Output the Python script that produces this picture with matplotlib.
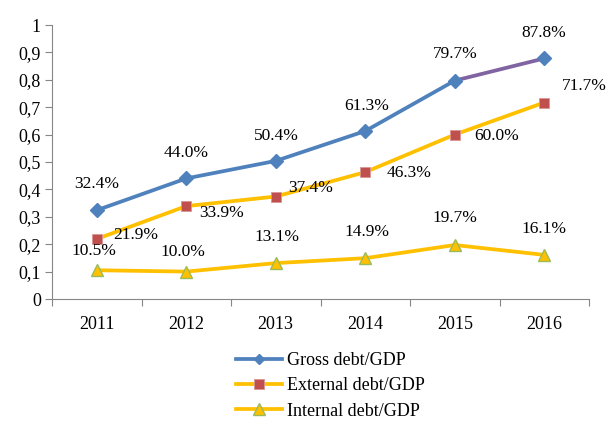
import matplotlib
matplotlib.use("Agg")
import matplotlib.pyplot as plt
import numpy as np
from matplotlib.lines import Line2D

years = ["2011", "2012", "2013", "2014", "2015", "2016"]
gross = [0.324, 0.440, 0.504, 0.613, 0.797, 0.878]
external = [0.219, 0.339, 0.374, 0.463, 0.600, 0.717]
internal = [0.105, 0.100, 0.131, 0.149, 0.197, 0.161]
gross_lbl = ["32.4%", "44.0%", "50.4%", "61.3%", "79.7%", "87.8%"]
ext_lbl = ["21.9%", "33.9%", "37.4%", "46.3%", "60.0%", "71.7%"]
int_lbl = ["10.5%", "10.0%", "13.1%", "14.9%", "19.7%", "16.1%"]

# label offsets in pixels (dx right, dy up) - layout only
gross_off = [(0, 26), (0, 25), (1, 25), (1, 25), (0, 27), (-1, 25)]
ext_off = [(39, 4), (35, -7), (35, 9), (44, -1), (42, -1), (40, 17)]
int_off = [(-3, 19), (-3, 20), (1, 26), (2, 26), (0, 27), (0, 26)]

plt.rcParams['font.family'] = ['Liberation Serif', 'DejaVu Serif']

DPI = 100
fig = plt.figure(figsize=(6.08, 4.21), dpi=DPI)
ax = fig.add_axes([52/608, 1-299/421, (589-52)/608, (299-25)/421])

x = np.arange(len(years)) + 0.5
blue = '#4F81BD'
gold = '#FFC000'
red = '#C0504D'
purple = '#8064A2'
green = '#9BBB59'

lw = 2.7
ax.plot(x, internal, color=gold, lw=lw, marker='^', ms=8.5, mfc=gold, mec=green, mew=1,
        zorder=3)
ax.plot(x, external, color=gold, lw=lw, marker='s', ms=7.5, mfc=red, mec='#D99694', mew=0.6,
        zorder=3)
ax.plot(x[:5], gross[:5], color=blue, lw=lw, zorder=4, solid_capstyle='round')
ax.plot(x[4:], gross[4:], color=purple, lw=lw, zorder=4, solid_capstyle='round')
ax.plot(x, gross, color='none', lw=0, marker='D', ms=7, mfc=blue, mec=blue, zorder=5)

fs = 12.5
px = 72.0 / DPI
def put(vals, labels, offs):
    for xi, v, t, (dx, dy) in zip(x, vals, labels, offs):
        ax.annotate(t, (xi, v), xytext=(dx * px, dy * px), textcoords='offset points',
                    ha='center', va='center', fontsize=fs, zorder=6)
put(gross, gross_lbl, gross_off)
put(external, ext_lbl, ext_off)
put(internal, int_lbl, int_off)

ax.set_xlim(0, 6)
ax.set_ylim(0, 1)
ax.set_xticks(np.arange(0, 7))
ax.set_xticklabels([])
ax.set_xticks(x, minor=True)
ax.set_xticklabels(years, minor=True, fontsize=13)
ax.tick_params(axis='x', which='minor', length=0, pad=12)
ax.tick_params(axis='x', which='major', length=5, color='#868686', direction='out')
ax.set_yticks(np.arange(0, 1.01, 0.1))
ax.set_yticklabels(['0', '0,1', '0,2', '0,3', '0,4', '0,5', '0,6', '0,7', '0,8', '0,9', '1'],
                   fontsize=13)
ax.tick_params(axis='y', length=5, color='#868686', direction='out', pad=3)
for s in ['top', 'right']:
    ax.spines[s].set_visible(False)
for s in ['left', 'bottom']:
    ax.spines[s].set_color('#868686')

handles = [
    Line2D([], [], color=blue, lw=lw, marker='D', ms=5, mfc=blue, mec=blue),
    Line2D([], [], color=gold, lw=lw, marker='s', ms=7.5, mfc=red, mec='#D99694', mew=0.6),
    Line2D([], [], color=gold, lw=lw, marker='^', ms=8, mfc=gold, mec=green),
]
fig.legend(handles, ['Gross debt/GDP', 'External debt/GDP', 'Internal debt/GDP'],
           loc='center left', bbox_to_anchor=(236/608, 1-386/421), frameon=False, fontsize=13,
           handlelength=2.55, labelspacing=0.45, handletextpad=0.25, borderpad=0,
           borderaxespad=0)

fig.savefig('out.png', dpi=DPI)
